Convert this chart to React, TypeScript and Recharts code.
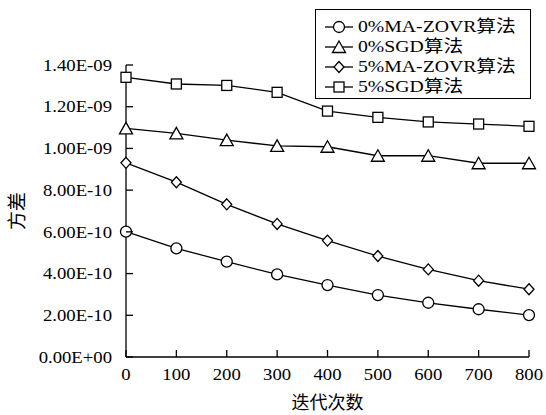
import { LineChart, Line, XAxis, YAxis, Legend } from 'recharts'

// iteration counts
const iterations = [0, 100, 200, 300, 400, 500, 600, 700, 800]

// variance per method
const ma0 = [6.01e-10, 5.21e-10, 4.57e-10, 3.96e-10, 3.45e-10, 2.97e-10, 2.6e-10, 2.29e-10, 2.01e-10]
const sgd0 = [1.096e-9, 1.072e-9, 1.04e-9, 1.012e-9, 1.008e-9, 9.65e-10, 9.65e-10, 9.29e-10, 9.29e-10]
const ma5 = [9.31e-10, 8.38e-10, 7.32e-10, 6.38e-10, 5.58e-10, 4.84e-10, 4.2e-10, 3.66e-10, 3.25e-10]
const sgd5 = [1.341e-9, 1.309e-9, 1.302e-9, 1.269e-9, 1.179e-9, 1.149e-9, 1.127e-9, 1.117e-9, 1.106e-9]

const xTicks = [0, 100, 200, 300, 400, 500, 600, 700, 800]
const yTicks = [0, 2e-10, 4e-10, 6e-10, 8e-10, 1e-9, 1.2e-9, 1.4e-9]

const series = [
  { key: 'ma0', name: '0%MA-ZOVR算法', shape: 'circle' },
  { key: 'sgd0', name: '0%SGD算法', shape: 'triangle' },
  { key: 'ma5', name: '5%MA-ZOVR算法', shape: 'diamond' },
  { key: 'sgd5', name: '5%SGD算法', shape: 'square' }
]

const data = iterations.map((it, i) => ({
  it,
  ma0: ma0[i],
  sgd0: sgd0[i],
  ma5: ma5[i],
  sgd5: sgd5[i]
}))

const FONT = "'Liberation Serif', 'Times New Roman', 'Noto Sans CJK SC', serif"
const SW = 1.3

function fmtSci(v: number) {
  const [m, e] = v.toExponential(2).split('e')
  const n = Number(e)
  const sign = n < 0 ? '-' : '+'
  return `${m}E${sign}${String(Math.abs(n)).padStart(2, '0')}`
}

function Marker({ shape, cx, cy }: { shape: string; cx: number; cy: number }) {
  const p = { fill: '#fff', stroke: '#000', strokeWidth: SW }
  if (shape === 'circle') return <circle cx={cx} cy={cy} r={5.5} {...p} />
  if (shape === 'square') return <rect x={cx - 5} y={cy - 5} width={10} height={10} {...p} />
  if (shape === 'triangle')
    return <polygon points={`${cx},${cy - 6} ${cx + 6.5},${cy + 5.5} ${cx - 6.5},${cy + 5.5}`} {...p} />
  return <polygon points={`${cx},${cy - 5.5} ${cx + 5},${cy} ${cx},${cy + 5.5} ${cx - 5},${cy}`} {...p} />
}

function YTick({ x, y, payload }: any) {
  return (
    <g>
      <line x1={x} y1={y} x2={x + 7} y2={y} stroke="#000" strokeWidth={SW} />
      <text
        transform={`translate(${x - 14},${y}) scale(1.1,1)`}
        textAnchor="end"
        dominantBaseline="central"
        fontFamily={FONT}
        fontSize={17}
        fill="#000"
      >
        {fmtSci(payload.value)}
      </text>
    </g>
  )
}

function XTick({ x, y, payload }: any) {
  return (
    <g>
      <line x1={x} y1={y} x2={x} y2={y - 7} stroke="#000" strokeWidth={SW} />
      <text
        transform={`translate(${x},${y + 17}) scale(1.1,1)`}
        textAnchor="middle"
        dominantBaseline="central"
        fontFamily={FONT}
        fontSize={17}
        fill="#000"
      >
        {payload.value}
      </text>
    </g>
  )
}

function LegendBox() {
  return (
    <div
      style={{
        border: '1px solid #000',
        background: '#fff',
        width: 216,
        height: 90,
        padding: '7px 0 2px 0',
        boxSizing: 'border-box',
        fontFamily: FONT,
        fontSize: 17,
        color: '#000'
      }}
    >
      {series.map((s) => (
        <div key={s.key} style={{ height: 20, display: 'flex', alignItems: 'center', paddingLeft: 9 }}>
          <svg width={33} height={20} style={{ display: 'block' }}>
            <line x1={0} y1={10} x2={28} y2={10} stroke="#000" strokeWidth={SW} />
            <Marker shape={s.shape} cx={14} cy={10} />
          </svg>
          <span
            style={{
              display: 'inline-block',
              transform: 'scaleX(1.16)',
              transformOrigin: 'left center',
              whiteSpace: 'nowrap',
              lineHeight: '20px'
            }}
          >
            {s.name}
          </span>
        </div>
      ))}
    </div>
  )
}

export default function App() {
  return (
    <div style={{ position: 'absolute', left: 0, top: 0, width: 546, height: 415, background: '#fff' }}>
      <LineChart width={546} height={415} data={data} margin={{ top: 65, right: 17, bottom: 0, left: 0 }}>
        <XAxis
          dataKey="it"
          type="number"
          domain={[0, 800]}
          ticks={xTicks}
          height={58}
          tickSize={0}
          tickMargin={0}
          tickLine={false}
          axisLine={{ stroke: '#000', strokeWidth: SW }}
          tick={<XTick />}
          label={{
            content: ({ viewBox }: any) => (
              <text
                x={viewBox.x + viewBox.width / 2}
                y={viewBox.y + 46}
                textAnchor="middle"
                dominantBaseline="central"
                fontFamily={FONT}
                fontSize={18}
                fill="#000"
              >
                迭代次数
              </text>
            )
          }}
        />
        <YAxis
          type="number"
          domain={[0, 1.4e-9]}
          ticks={yTicks}
          width={126}
          tickSize={0}
          tickMargin={0}
          tickLine={false}
          axisLine={{ stroke: '#000', strokeWidth: SW }}
          tick={<YTick />}
          label={{
            content: ({ viewBox }: any) => {
              const cx = viewBox.x + 17
              const cy = viewBox.y + viewBox.height / 2
              return (
                <text
                  x={cx}
                  y={cy}
                  transform={`rotate(-90, ${cx}, ${cy})`}
                  textAnchor="middle"
                  dominantBaseline="central"
                  fontFamily={FONT}
                  fontSize={19}
                  fill="#000"
                >
                  方差
                </text>
              )
            }
          }}
        />
        <Legend
          layout="vertical"
          align="center"
          verticalAlign="middle"
          wrapperStyle={{ left: 315, top: 9, width: 216 }}
          content={() => <LegendBox />}
        />
        {series.map((s) => (
          <Line
            key={s.key}
            dataKey={s.key}
            name={s.name}
            type="linear"
            stroke="#000"
            strokeWidth={SW}
            isAnimationActive={false}
            dot={(props: any) => <Marker key={`${s.key}-${props.index}`} shape={s.shape} cx={props.cx} cy={props.cy} />}
            activeDot={false}
          />
        ))}
      </LineChart>
    </div>
  )
}
